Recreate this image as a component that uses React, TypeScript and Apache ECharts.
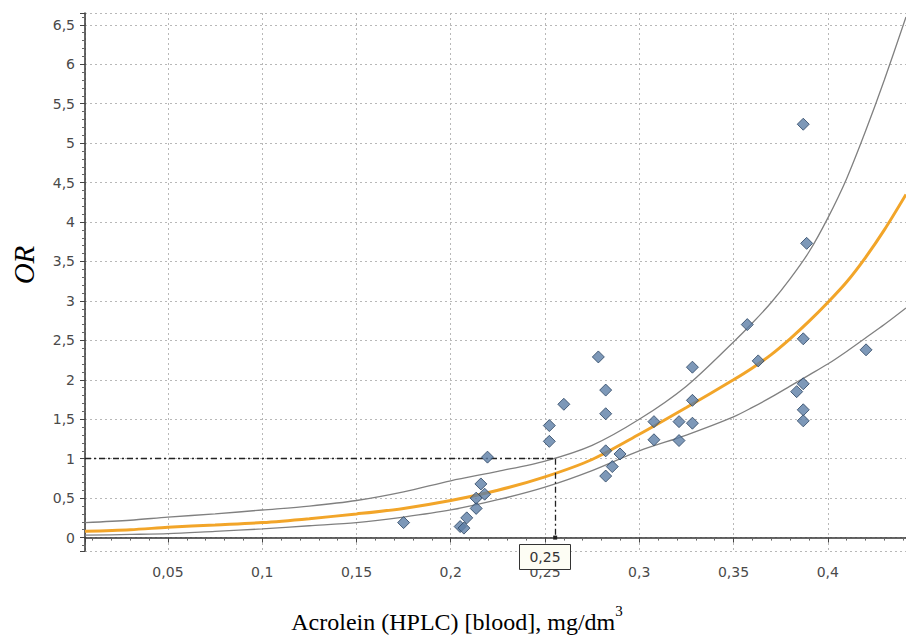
import React, { useEffect, useRef } from "react";
import * as echarts from "echarts";

// Fitted odds-ratio curve and its confidence band
const curveX = [0.006, 0.03, 0.05, 0.075, 0.1, 0.125, 0.15, 0.175, 0.2, 0.225, 0.25, 0.275, 0.3, 0.325, 0.35, 0.36, 0.37, 0.38, 0.39, 0.4, 0.41, 0.42, 0.43, 0.4415];
const orFit = [0.08, 0.1, 0.13, 0.16, 0.19, 0.24, 0.3, 0.37, 0.47, 0.6, 0.77, 0.99, 1.31, 1.65, 2.0, 2.15, 2.32, 2.52, 2.74, 2.98, 3.24, 3.55, 3.9, 4.35];
const ciUpper = [0.19, 0.22, 0.26, 0.3, 0.35, 0.4, 0.47, 0.58, 0.72, 0.84, 0.97, 1.17, 1.5, 1.92, 2.48, 2.72, 2.98, 3.28, 3.62, 4.05, 4.55, 5.15, 5.8, 6.6];
const ciLower = [0.03, 0.04, 0.05, 0.08, 0.11, 0.15, 0.19, 0.26, 0.35, 0.48, 0.64, 0.85, 1.1, 1.3, 1.53, 1.65, 1.78, 1.92, 2.06, 2.2, 2.36, 2.53, 2.7, 2.91];

// Observations
const pointX = [0.175, 0.205, 0.207, 0.2085, 0.2135, 0.2135, 0.218, 0.216, 0.2195, 0.2523, 0.2523, 0.26, 0.2783, 0.2822, 0.2822, 0.2822, 0.2898, 0.2857, 0.2822, 0.3078, 0.3078, 0.3282, 0.3282, 0.3282, 0.3211, 0.3211, 0.3631, 0.3573, 0.387, 0.387, 0.3835, 0.387, 0.387, 0.4203, 0.3888, 0.387];
const pointY = [0.19, 0.14, 0.12, 0.25, 0.37, 0.5, 0.55, 0.68, 1.02, 1.42, 1.22, 1.69, 2.29, 1.87, 1.57, 1.1, 1.06, 0.9, 0.78, 1.47, 1.24, 2.16, 1.74, 1.45, 1.47, 1.23, 2.24, 2.7, 2.52, 1.95, 1.85, 1.62, 1.48, 2.38, 3.73, 5.24];

// Reference (OR = 1) cut-off
const refX = 0.2554;
const refY = 1;
const markerValue = 0.25;
const markerLabel = "0,25";

const xTitle = "Acrolein (HPLC) [blood], mg/dm";
const xTitleSup = "3";
const yTitle = "OR";

const X_MIN = 0.006;
const X_MAX = 0.4415;
const Y_MIN = -0.17;
const Y_MAX = 6.65;

const fmt = (v: number) => String(Math.round(v * 1000) / 1000).replace(".", ",");

const zip = (xs: number[], ys: number[]) => xs.map((x, i) => [x, ys[i]]);

export default function App() {
  const ref = useRef<HTMLDivElement>(null);

  useEffect(() => {
    if (!ref.current) return;
    const chart = echarts.init(ref.current, null, { renderer: "svg" });

    const axisCommon = {
      type: "value" as const,
      axisLine: { show: true, lineStyle: { color: "#333", width: 1.5 } },
      axisTick: { show: true, length: 5, lineStyle: { color: "#444" } },
      minorTick: { show: true, splitNumber: 5, length: 3, lineStyle: { color: "#666" } },
      splitLine: { show: true, lineStyle: { color: "#b8b8b8", type: [2, 3], width: 1 } },
      axisLabel: {
        fontFamily: "DejaVu Sans",
        fontSize: 14,
        color: "#4a4a4a",
        showMinLabel: false,
        showMaxLabel: false,
        formatter: (v: number) => fmt(v),
      },
    };

    chart.setOption({
      animation: false,
      backgroundColor: "#fff",
      grid: { left: 85, right: 0, top: 13, bottom: 88 },
      xAxis: {
        ...axisCommon,
        min: X_MIN,
        max: X_MAX,
        splitNumber: 9,
        axisLabel: { ...axisCommon.axisLabel, margin: 14 },
      },
      yAxis: {
        ...axisCommon,
        min: Y_MIN,
        max: Y_MAX,
        splitNumber: 13,
        axisLabel: { ...axisCommon.axisLabel, margin: 10 },
      },
      series: [
        {
          type: "line",
          data: zip(curveX, ciUpper),
          smooth: 0.3,
          showSymbol: false,
          lineStyle: { color: "#808080", width: 1.3 },
          z: 2,
        },
        {
          type: "line",
          data: zip(curveX, ciLower),
          smooth: 0.3,
          showSymbol: false,
          lineStyle: { color: "#808080", width: 1.3 },
          z: 2,
        },
        {
          type: "line",
          data: zip(curveX, orFit),
          smooth: 0.3,
          showSymbol: false,
          lineStyle: { color: "#f2a529", width: 3 },
          z: 3,
        },
        {
          type: "scatter",
          data: zip(pointX, pointY),
          symbol: "diamond",
          symbolSize: 12,
          itemStyle: { color: "#5c7ea6", borderColor: "#2a4462", borderWidth: 1 },
          z: 5,
          markLine: {
            silent: true,
            symbol: ["none", "none"],
            label: { show: false },
            lineStyle: { color: "#222", type: [6, 3, 2, 3], width: 1.3 },
            data: [
              [{ coord: [X_MIN, refY] }, { coord: [refX, refY] }],
              [
                { coord: [refX, refY] },
                { coord: [refX, 0], symbol: "rect", symbolSize: 4 },
              ],
            ],
          },
        },
      ],
    });

    const px = chart.convertToPixel({ xAxisIndex: 0 }, markerValue) as number;
    const axisY = chart.convertToPixel({ yAxisIndex: 0 }, Y_MIN) as number;

    chart.setOption({
      graphic: [
        {
          type: "rect",
          shape: { x: Math.round(px) - 25.5, y: Math.round(axisY) - 6.5, width: 51, height: 25 },
          style: { fill: "#fdfdf4", stroke: "#333", lineWidth: 1 },
          z: 100,
        },
        {
          type: "text",
          x: px,
          y: axisY + 6,
          style: {
            text: markerLabel,
            font: '14px "DejaVu Sans"',
            fill: "#333",
            align: "center",
            verticalAlign: "middle",
          },
          z: 101,
        },
        {
          type: "text",
          x: 24,
          y: 265,
          rotation: Math.PI / 2,
          style: {
            text: yTitle,
            font: 'italic 29px "Liberation Serif"',
            fill: "#000",
            align: "center",
            verticalAlign: "middle",
          },
        },
        {
          type: "text",
          x: 457,
          y: 617,
          style: {
            text: `{a|${xTitle}}{s|${xTitleSup}}`,
            align: "center",
            verticalAlign: "middle",
            rich: {
              a: { fontFamily: "Liberation Serif", fontSize: 24, lineHeight: 34, verticalAlign: "bottom", fill: "#000" },
              s: { fontFamily: "Liberation Serif", fontSize: 15, lineHeight: 34, verticalAlign: "top", padding: [3, 0, 0, 0], fill: "#000" },
            },
          },
        },
      ],
    });

    return () => chart.dispose();
  }, []);

  return (
    <div
      ref={ref}
      style={{ position: "absolute", left: 0, top: 0, width: 906, height: 639 }}
    />
  );
}
